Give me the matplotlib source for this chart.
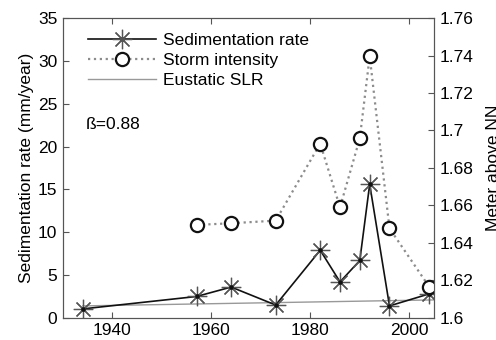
import numpy as np
import matplotlib
matplotlib.use("Agg")
import matplotlib.pyplot as plt
from matplotlib.ticker import FuncFormatter

plt.rcParams['font.family'] = ['Liberation Sans', 'DejaVu Sans']

# sedimentation rate (mm/year)
sed_years = [1934, 1957, 1964, 1973, 1982, 1986, 1990, 1992, 1996, 2004]
sed_rate = [1.05, 2.5, 3.6, 1.5, 7.9, 4.2, 6.7, 15.6, 1.4, 2.8]

# storm intensity (meter above NN)
storm_years = [1957, 1964, 1973, 1982, 1986, 1990, 1992, 1996, 2004]
storm_level = [1.6496, 1.6505, 1.6519, 1.6930, 1.6590, 1.6958, 1.7396, 1.6478, 1.6167]

# eustatic sea level rise
slr_years = [1934, 2005]
slr_rate = [1.4, 2.1]

xticks = [1940, 1960, 1980, 2000]
left_ticks = [0, 5, 10, 15, 20, 25, 30, 35]
right_ticks = [1.6, 1.62, 1.64, 1.66, 1.68, 1.7, 1.72, 1.74, 1.76]

fs = 12.5

fig = plt.figure(figsize=(4.96, 3.4), dpi=100)
ax = fig.add_axes([0.127, 0.065, 0.748, 0.882])
ax2 = ax.twinx()

ast = (8, 2, 0)
l1, = ax.plot(sed_years, sed_rate, color='#111111', lw=1.2, marker=ast,
              ms=14, mec='#555555', mew=0.9, label='Sedimentation rate', zorder=3)
ax.plot(sed_years, sed_rate, ls='none', marker='o', ms=2.2, color='#111111', zorder=4)
l3, = ax.plot(slr_years, slr_rate, color='#999999', lw=1.0, label='Eustatic SLR', zorder=2)
l2, = ax2.plot(storm_years, storm_level, color='#8c8c8c', lw=1.6, ls=':',
               marker='o', ms=9.5, mfc='white', mec='#111111', mew=1.6,
               label='Storm intensity')

ax.set_xlim(1930, 2005)
ax.set_ylim(0, 35)
ax2.set_ylim(1.6, 1.76)
ax.set_xticks(xticks)
ax.set_yticks(left_ticks)
ax2.set_yticks(right_ticks)
ax2.yaxis.set_major_formatter(FuncFormatter(lambda v, p: f'{v:g}'))

for a in (ax, ax2):
    for s in a.spines.values():
        s.set_color('#555555')
    a.tick_params(direction='in', length=4, color='#555555', labelsize=fs, labelcolor='black')
ax.tick_params(top=True, pad=4)
ax2.tick_params(pad=4)

ax.set_ylabel('Sedimentation rate (mm/year)', fontsize=fs, labelpad=3)
ax2.set_ylabel('Meter above NN', fontsize=fs, labelpad=9)

ax.text(1934.5, 22.0, 'ß=0.88', fontsize=fs)

leg = ax.legend([l1, l2, l3], ['Sedimentation rate', 'Storm intensity', 'Eustatic SLR'],
                loc='upper left', bbox_to_anchor=(0.05, 0.975), frameon=False,
                fontsize=fs, handlelength=3.9, handletextpad=0.4, labelspacing=0.3,
                borderaxespad=0)

fig.savefig('out.png', dpi=100)
